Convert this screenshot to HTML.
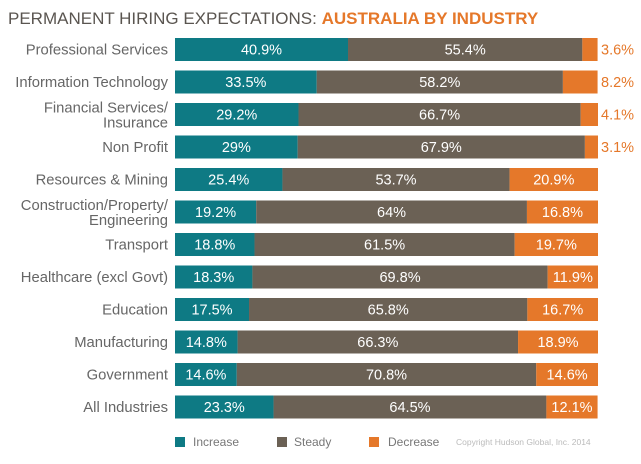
<!DOCTYPE html>
<html><head><meta charset="utf-8"><style>
body{margin:0;background:#fff;width:641px;height:459px;overflow:hidden;font-family:"Liberation Sans",sans-serif}
svg text{font-family:"Liberation Sans",sans-serif}
</style></head><body>
<svg id="c" width="641" height="459">
<text x="8" y="24" font-size="17" fill="#5a5550">PERMANENT HIRING EXPECTATIONS: <tspan fill="#e5782a" font-weight="bold">AUSTRALIA BY INDUSTRY</tspan></text>
<g id="bars"></g>
<g>
<rect x="175" y="437" width="10" height="10" fill="#0e7a84"/>
<text x="193" y="446" font-size="12" fill="#777">Increase</text>
<rect x="277" y="437" width="10" height="10" fill="#6b6155"/>
<text x="294" y="446" font-size="12" fill="#777">Steady</text>
<rect x="369" y="437" width="10" height="10" fill="#e5782a"/>
<text x="388" y="446" font-size="12" fill="#777">Decrease</text>
</g>
<text x="456" y="445" font-size="8.5" fill="#bbb">Copyright Hudson Global, Inc. 2014</text>
</svg>
<script>
const categories=[["Professional Services"],["Information Technology"],["Financial Services/","Insurance"],["Non Profit"],["Resources & Mining"],["Construction/Property/","Engineering"],["Transport"],["Healthcare (excl Govt)"],["Education"],["Manufacturing"],["Government"],["All Industries"]];
const increase=[40.9,33.5,29.2,29,25.4,19.2,18.8,18.3,17.5,14.8,14.6,23.3];
const steady=[55.4,58.2,66.7,67.9,53.7,64,61.5,69.8,65.8,66.3,70.8,64.5];
const decrease=[3.6,8.2,4.1,3.1,20.9,16.8,19.7,11.9,16.7,18.9,14.6,12.1];
const NS="http://www.w3.org/2000/svg";
const g=document.getElementById('bars');
const X0=175,W=423,Y0=38,STEP=32.5,H=23;
const xs=v=>v/100*W;
function mk(t,a){const e=document.createElementNS(NS,t);for(const k in a)e.setAttribute(k,a[k]);return e;}
categories.forEach((cat,i)=>{
 const y=Y0+i*STEP;
 const lab=mk('text',{x:168,'text-anchor':'end','font-size':14.8,fill:'#666'});
 
 
 if(cat.length===1){lab.setAttribute('y',y+H/2+5);lab.textContent=cat[0];}
 else{cat.forEach((l,j)=>{const t=mk('tspan',{x:168,y:y+H/2-2+j*15});t.textContent=l;lab.appendChild(t);});}
 g.appendChild(lab);
 const segs=[[increase[i],'#0e7a84','bar-increase'],[steady[i],'#6b6155','bar-steady'],[decrease[i],'#e5782a','bar-decrease']];
 let x=X0;
 segs.forEach(([v,c,n],k)=>{
  const w=xs(v);
  const r=mk('rect',{x:x,y:y,width:w,height:H,fill:c});
  
  
  g.appendChild(r);
  const out=(k===2&&v<10);
  const t=mk('text',{x:out?X0+W+3:x+w/2,y:y+H/2+5,'text-anchor':out?'start':'middle','font-size':14.5,fill:out?'#e5782a':'#fff'});
  
  
  t.textContent=v+'%';
  g.appendChild(t);
  x+=w;
 });
});
</script>
</body></html>
